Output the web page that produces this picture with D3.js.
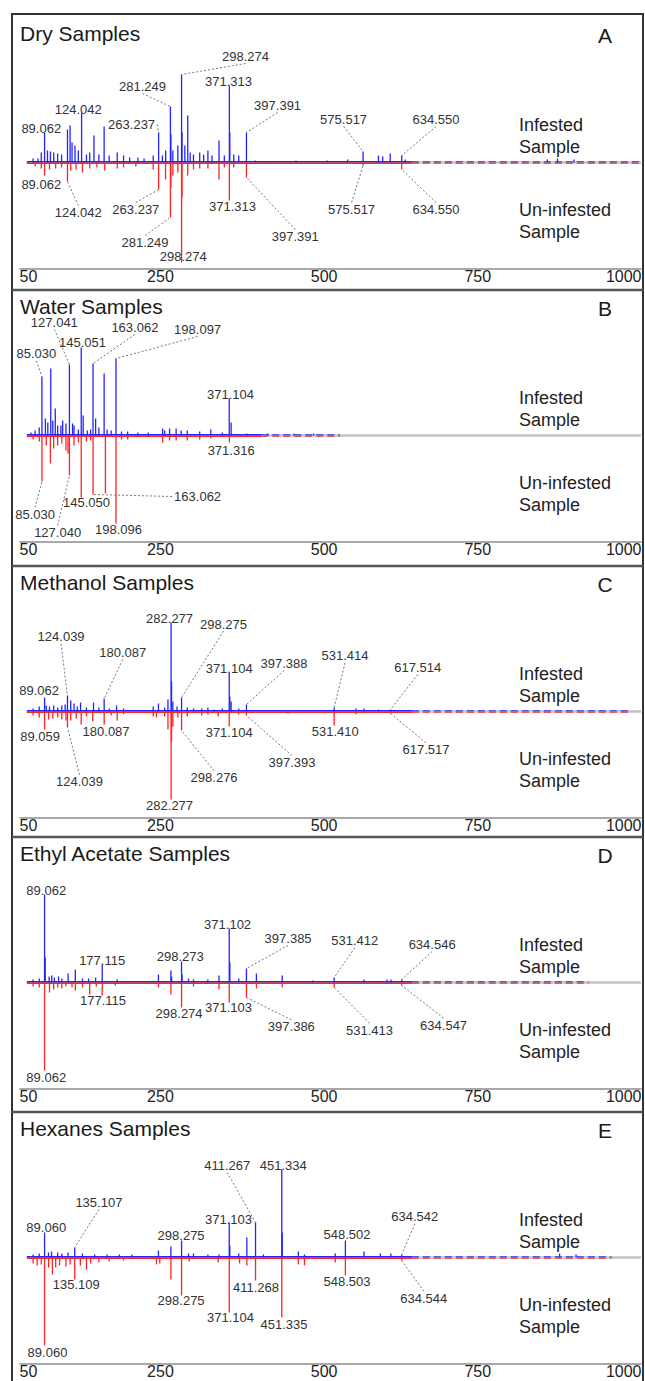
<!DOCTYPE html>
<html>
<head>
    <meta charset="utf-8">
    <title>Mirror mass spectra - infested vs un-infested</title>
    <script src="https://d3js.org/d3.v7.min.js"></script>
    <style>
        body { margin: 0; background: #fff; }
    </style>
</head>
<body>
<div id="chart"></div>

<script type="text/javascript">
    // panel titles and letters
    const panelNames = ["Dry Samples", "Water Samples", "Methanol Samples", "Ethyl Acetate Samples", "Hexanes Samples"];
    const panelLetters = ["A", "B", "C", "D", "E"];
    const xTicks = [50, 250, 500, 750, 1000];
    const infestedText = ["Infested", "Sample"];
    const uninfestedText = ["Un-infested", "Sample"];
    // m/z where the dense noise floor stops and where the whole trace stops
    const denseEnd = [650, 420, 650, 650, 650];
    const spectrumEnd = [1000, 540, 985, 920, 955];

    // [m/z, relative intensity]
    const dryInfested = [[71.5,4],[79,4],[84,10],[89.062,30],[93.5,12],[98,11],[103,10],[109,9],[115,8],[124.042,33],[128,37],[131,20],[135.5,17],[140.6,12],[145.6,50],[153,8],[158,10],[164.5,27],[172,8],[180,36],[187.7,7],[200,10],[209.7,7],[219,5],[231.7,5],[241,4],[255,7],[263.237,30],[269,7],[274,12],[281.249,56],[282,28],[285,12],[292.6,17],[298.274,88],[299,30],[303.3,17],[307.7,47],[311.5,10],[316.5,8],[326,10],[332,8],[338.5,12],[344.8,7],[355.5,22],[363.6,7],[371.313,77],[372,30],[378,8],[385.6,7],[397.391,30],[410.7,2],[429,1],[473,2],[520.7,2],[552,3],[575.517,11],[599,7],[605.5,6],[617,9],[634.55,7],[640,3],[857,3],[872.5,4],[897.7,3]];
    const dryUninfested = [[74.6,4],[84,6],[89.062,13],[96.6,7],[106,6],[115,5],[124.042,19],[129,8],[137,7],[146.9,10],[158,6],[169,5],[181,8],[200,6],[209.7,5],[228.5,4],[255,7],[263.237,27],[273.8,17],[281.249,55],[282,25],[285,13],[292.6,10],[298.274,100],[299,35],[307.7,13],[316.5,7],[326,6],[338.5,6],[355.5,17],[363.6,5],[371.313,38],[378,5],[397.391,15],[575.517,3],[634.55,7]];

    const waterInfested = [[68.3,3],[74.6,5],[80.9,8],[85.03,59],[90.3,17],[94,13],[98.5,67],[101.6,15],[105.4,27],[109,10],[114,10],[116.7,15],[121.7,12],[127.041,71],[131.8,12],[134,10],[140.6,6],[145.051,88],[148,20],[154.4,5],[159.4,6],[163.062,72],[167,17],[172,8],[180,62],[184.6,6],[190.8,5],[198.097,77],[206.5,4],[216,4],[231.7,3],[247.4,3],[269.4,7],[272.5,5],[280,7],[290,7],[297.6,5],[307,5],[326,4],[342.9,6],[360.5,3],[371.104,37],[374,13],[398,2],[430,2],[470,2],[500,2]];
    const waterUninfested = [[71.5,4],[81,6],[85.03,46],[91.6,10],[97.9,28],[102.9,13],[109,10],[115.4,8],[121.7,15],[124.9,18],[127.04,40],[134,10],[140.6,7],[145.05,62],[153,6],[159.4,5],[163.062,59],[182,58],[198.096,88],[206.5,4],[216,4],[269.4,7],[280,5],[290,5],[307,5],[326,4],[342.9,3],[371.316,7]];

    const methanolInfested = [[71.5,3],[80.9,5],[89.062,14],[91.6,6],[96.6,5],[103,6],[109,4],[115.4,6],[120.5,7],[124.039,16],[129,11],[134,8],[139,5],[144,9],[153,4],[163.8,9],[172,4],[180.087,13],[187.7,3],[199,6],[209.7,3],[255,5],[263,8],[272.5,4],[277.5,12],[282.277,89],[283,30],[285,10],[291.4,5],[298.275,14],[307,4],[316.5,3],[329,3],[338.5,4],[348,2],[360.5,3],[371.104,39],[372,15],[374,10],[385.6,3],[397.388,7],[461,1],[531.414,4],[564.7,3],[577,3],[599,2],[617.514,2]];
    const methanolUninfested = [[71.5,4],[80.9,6],[89.059,18],[95.3,8],[101.6,7],[109,6],[115.4,8],[121.7,9],[124.039,16],[129,9],[137.4,7],[145,13],[153,5],[162.6,10],[180.087,13],[190.8,4],[200,9],[209.7,3],[255,5],[260,6],[272.5,5],[277.5,18],[282.277,88],[283,30],[285,15],[292.6,6],[298.276,19],[307,5],[329,4],[338.5,3],[354.2,5],[371.104,15],[385.6,3],[397.393,4],[461,2],[531.41,14],[564.7,3],[617.517,2]];

    const ethylInfested = [[71.5,3],[80.9,4],[89.062,88],[90,25],[96,6],[100,7],[104,5],[110.4,6],[115.4,4],[125,9],[136,13],[147,4],[156.3,4],[167,5],[177.115,18],[200,3],[263,8],[282,12],[283,6],[298.273,21],[299,8],[308.9,4],[316.5,3],[338.5,3],[355.5,7],[371.102,54],[372,20],[385.6,4],[397.385,14],[412.6,9],[452,7],[499,2],[531.412,5],[577,3],[612,3],[618,3],[634.546,3]];
    const ethylUninfested = [[71.5,4],[80.9,5],[89.062,88],[96.6,10],[103,7],[109,5],[115.4,6],[121.7,4],[131,5],[136,8],[147,5],[158,12],[168,4],[177.115,13],[197,3],[263,5],[282,12],[298.274,25],[316.5,4],[355.5,7],[371.103,20],[397.386,15],[412.6,6],[452,5],[531.413,5],[634.547,3]];

    const hexanesInfested = [[71.5,3],[80.9,4],[89.06,25],[95,5],[99.7,6],[109,5],[115.4,4],[124.9,5],[135.107,10],[146.9,4],[165.7,3],[184.6,3],[203.4,3],[222.3,3],[263,7],[282,11],[298.275,17],[308.9,4],[316.5,4],[338.5,3],[355.5,3],[371.103,35],[372,12],[385.6,4],[398,20],[411.267,35],[423.3,3],[451.334,88],[452,25],[476.7,6],[486,3],[533,4],[548.502,17],[577,6],[602,4],[618,4],[634.542,3],[875.7,4],[900.8,3]];
    const hexanesUninfested = [[71.5,6],[77.8,8],[84,7],[89.06,88],[95.3,10],[101,17],[106,10],[112,8],[121.7,9],[128,7],[135.109,22],[143.7,8],[153,12],[159.4,6],[172,5],[187.7,4],[209.7,3],[260,7],[265,6],[282,22],[298.275,38],[310,4],[354.2,5],[371.104,55],[386.9,6],[398,8],[411.268,23],[451.335,60],[476.7,7],[486,8],[533,5],[548.503,18],[634.544,3]];

    // peak labels: [text (= peak m/z), label m/z, label intensity (negative = below), leader side]
    const dryLabels = [["89.062",84,34,""],["124.042",140.6,53,""],["263.237",222,38,"r"],["281.249",238.6,76,"b"],["298.274",396,106,"b"],["371.313",370,81,""],["397.391",445,57,"b"],["575.517",545.8,43,"b"],["634.550",687,43,"b"],
        ["89.062",84,-22,""],["124.042",140.6,-50,"t"],["263.237",228.5,-47,"t"],["281.249",242.4,-80,"t"],["298.274",300.8,-94,""],["371.313",376,-44,""],["397.391",472,-74,"t"],["575.517",558,-47,"t"],["634.550",687,-47,"t"]];
    const waterLabels = [["85.030",76.5,81.7,"b"],["127.041",104,113,"b"],["145.051",146.9,93,""],["163.062",227,108,"b"],["198.097",322.8,106,"b"],["371.104",373,40.7,""],
        ["85.030",74.6,-79,"t"],["127.040",109,-97,"t"],["145.050",153,-67,""],["163.062",322.8,-61,"l"],["198.096",202,-94,""],["371.316",374,-15,""]];
    const methanolLabels = [["89.062",80.8,20.7,""],["124.039",114.3,74.7,"b"],["180.087",208.4,59,"b"],["282.277",280,93,""],["298.275",362.4,87.4,"b"],["371.104",371,42.7,""],["397.388",454.8,48,"b"],["531.414",547.9,55.7,"b"],["617.514",659,44,"b"],
        ["89.059",82.3,-25.3,""],["180.087",183,-20.3,""],["371.104",371,-21,""],["531.410",533,-20.3,""],["124.039",142.4,-70.3,"t"],["298.276",348,-66.3,"t"],["397.393",467,-51,"t"],["617.517",671.6,-38.3,"t"],["282.277",280,-94.3,""]];
    const ethylLabels = [["89.062",91.6,92,""],["177.115",177,21.7,""],["298.273",296.4,26,""],["371.102",368.6,58,""],["397.385",461,44,"b"],["531.412",562.8,41.7,"b"],["634.546",681,38,"b"],
        ["177.115",178.3,-18.3,""],["298.274",294.5,-31,""],["371.103",370,-25,""],["397.386",466,-44.3,"t"],["531.413",585.4,-47.7,"t"],["634.547",698.5,-42.7,"t"],["89.062",91.6,-95,""]];
    const hexanesLabels = [["89.060",91.6,30,""],["135.107",172,55,"b"],["298.275",297.6,21.7,""],["371.103",370,38,""],["411.267",368,92,"b"],["451.334",453.5,92,""],["548.502",550.9,22.7,""],["634.542",654.5,40.7,"b"],
        ["135.109",137.4,-27.3,""],["298.275",297.6,-43.3,""],["371.104",373,-60,""],["411.268",412,-30,""],["451.335",454.7,-66.7,""],["548.503",550.9,-24.3,""],["634.544",668.3,-40.7,"t"],["89.060",93.5,-95,""]];

    const infested = [dryInfested, waterInfested, methanolInfested, ethylInfested, hexanesInfested];
    const uninfested = [dryUninfested, waterUninfested, methanolUninfested, ethylUninfested, hexanesUninfested];
    const labels = [dryLabels, waterLabels, methanolLabels, ethylLabels, hexanesLabels];

    let w = 645, h = 1381;
    let font = "'Liberation Sans', Arial, sans-serif";
    let blue = "#2323ff", red = "#ff2323";

    let svg = d3.select("#chart")
        .append("svg")
            .attr("width", w)
            .attr("height", h)
            .style("font-family", font);

    let xScale = d3.scaleLinear().domain([50, 1000]).range([19, 641]);
    let yScale = d3.scaleLinear().domain([0, 100]).range([0, 100]);

    let tops = [17, 290, 566, 837, 1112];
    let base = 145.5;   // zero line inside a panel
    let axisY = 251.5;

    // outer frame and separators
    svg.append("rect")
        .attr("x", 12).attr("y", 14)
        .attr("width", 631).attr("height", 1400)
        .attr("fill", "none").attr("stroke", "#333").attr("stroke-width", 2);
    tops.slice(1).forEach(function(t) {
        svg.append("line")
            .attr("x1", 12).attr("x2", 643).attr("y1", t).attr("y2", t)
            .attr("stroke", "#555").attr("stroke-width", 2.5);
    });

    function findPeak(series, mz) {
        let best = series[0];
        series.forEach(function(d) {
            if (Math.abs(d[0] - mz) < Math.abs(best[0] - mz)) best = d;
        });
        return best;
    }

    panelNames.forEach(function(name, i) {
        let g = svg.append("g").attr("transform", "translate(0," + tops[i] + ")");

        g.append("text")
            .attr("x", 20).attr("y", 23.5)
            .attr("font-size", "21px").attr("fill", "#1a1a1a")
            .text(name);
        g.append("text")
            .attr("x", 605).attr("y", 26)
            .attr("text-anchor", "middle")
            .attr("font-size", "21px").attr("fill", "#1a1a1a")
            .text(panelLetters[i]);

        // grey zero line
        g.append("line")
            .attr("x1", xScale(62)).attr("x2", xScale(1000))
            .attr("y1", base).attr("y2", base)
            .attr("stroke", "#c2c2c2").attr("stroke-width", 2.5);

        // noise floor, solid then dashed
        [[blue, -0.8], [red, 0.8]].forEach(function(s) {
            g.append("line")
                .attr("x1", xScale(62)).attr("x2", xScale(denseEnd[i]))
                .attr("y1", base + s[1]).attr("y2", base + s[1])
                .attr("stroke", s[0]).attr("stroke-width", 1.6);
            g.append("line")
                .attr("x1", xScale(denseEnd[i])).attr("x2", xScale(spectrumEnd[i]))
                .attr("y1", base + s[1]).attr("y2", base + s[1])
                .attr("stroke", s[0]).attr("stroke-width", 1.4)
                .attr("stroke-dasharray", "7,4").attr("opacity", 0.7);
        });

        g.selectAll("line.inf")
            .data(infested[i])
            .enter()
            .append("line")
            .attr("class", "inf")
            .attr("x1", function(d) { return xScale(d[0]); })
            .attr("x2", function(d) { return xScale(d[0]); })
            .attr("y1", base)
            .attr("y2", function(d) { return base - yScale(d[1]); })
            .attr("stroke", blue).attr("stroke-width", 1.3);

        g.selectAll("line.uninf")
            .data(uninfested[i])
            .enter()
            .append("line")
            .attr("class", "uninf")
            .attr("x1", function(d) { return xScale(d[0]); })
            .attr("x2", function(d) { return xScale(d[0]); })
            .attr("y1", base)
            .attr("y2", function(d) { return base + yScale(d[1]); })
            .attr("stroke", red).attr("stroke-width", 1.3);

        // peak labels with dotted leaders
        labels[i].forEach(function(l) {
            let lx = xScale(l[1]);
            let ly = l[2] >= 0 ? base - yScale(l[2]) : base + yScale(-l[2]);
            let t = g.append("text")
                .attr("x", lx).attr("y", ly)
                .attr("dy", "0.35em")
                .attr("text-anchor", "middle")
                .attr("font-size", "13px").attr("fill", "#333")
                .text(l[0]);
            if (l[3] == "") return;
            let tw = t.node().getComputedTextLength();
            let series = l[2] >= 0 ? infested[i] : uninfested[i];
            let pk = findPeak(series, +l[0]);
            let px = xScale(pk[0]);
            let py = l[2] >= 0 ? base - yScale(pk[1]) : base + yScale(pk[1]);
            let sx = lx, sy = ly;
            if (l[3] == "b") sy = ly + 7;
            if (l[3] == "t") sy = ly - 7;
            if (l[3] == "l") sx = lx - tw / 2 - 2;
            if (l[3] == "r") sx = lx + tw / 2 + 2;
            g.append("line")
                .attr("x1", sx).attr("y1", sy).attr("x2", px).attr("y2", py)
                .attr("stroke", "#777").attr("stroke-width", 1)
                .attr("stroke-dasharray", "2,2");
        });

        // side captions
        infestedText.forEach(function(s, k) {
            g.append("text")
                .attr("x", 519).attr("y", base - 31.5 + k * 21.5)
                .attr("font-size", "18px").attr("fill", "#222")
                .text(s);
        });
        uninfestedText.forEach(function(s, k) {
            g.append("text")
                .attr("x", 519).attr("y", base + 53.5 + k * 21.5)
                .attr("font-size", "18px").attr("fill", "#222")
                .text(s);
        });

        // x axis
        let xAxis = d3.axisBottom(xScale)
            .tickValues(xTicks)
            .tickSize(0)
            .tickSizeOuter(0)
            .tickPadding(2)
            .tickFormat(d3.format("d"));
        let ag = g.append("g")
            .attr("transform", "translate(0," + axisY + ")")
            .call(xAxis);
        ag.attr("font-family", font).attr("font-size", 16);
        ag.select(".domain").attr("stroke", "#a8a8a8").attr("stroke-width", 2);
        ag.selectAll(".tick text")
            .attr("fill", "#222")
            .attr("text-anchor", function(d, k) { return k == 0 ? "start" : (k == xTicks.length - 1 ? "end" : "middle"); })
            .attr("dx", function(d, k) { return (k > 0 && d < 750) ? 10 : 0; });
    });
</script>
</body>
</html>
